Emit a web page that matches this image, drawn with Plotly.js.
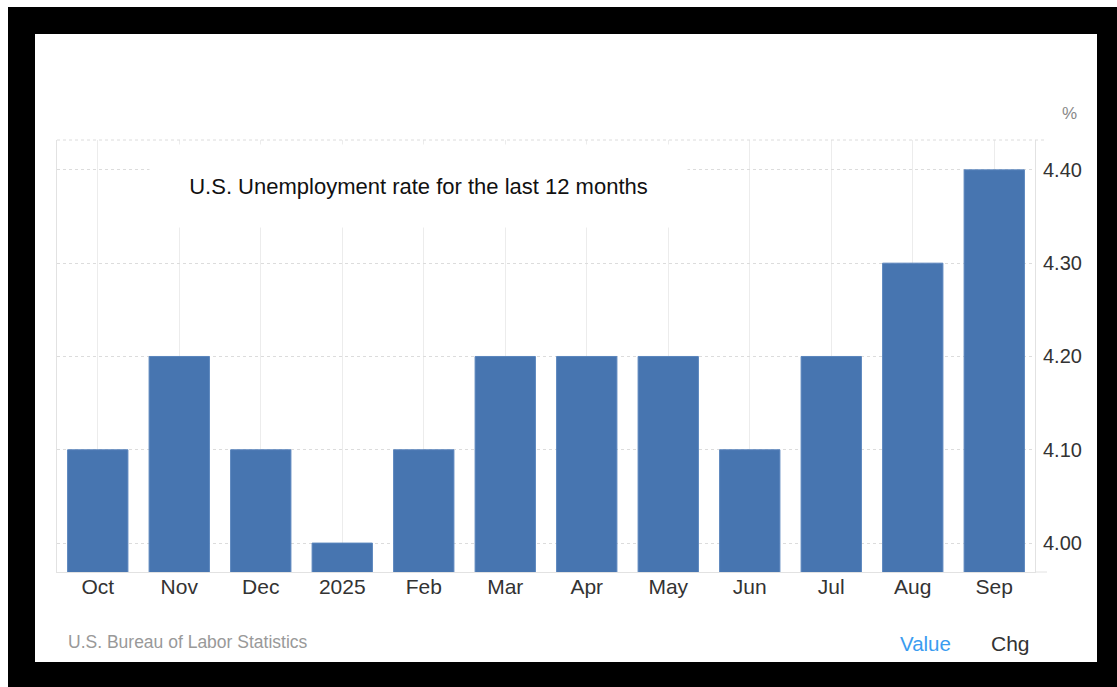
<!DOCTYPE html>
<html>
<head>
<meta charset="utf-8">
<script src="https://cdn.plot.ly/plotly-3.0.1.min.js"></script>
<style>
  html, body { margin:0; padding:0; background:#fff; }
  #outer { position:absolute; left:8px; top:7px; width:1109px; height:680px; background:#000; }
  #inner { position:absolute; left:35px; top:34px; width:1062px; height:628px; background:#fff; }
  #chart { position:absolute; left:0; top:0; width:1117px; height:687px; }
</style>
</head>
<body>
<div id="outer"></div>
<div id="inner"></div>
<div id="chart"></div>
<script>
const months = ["Oct","Nov","Dec","2025","Feb","Mar","Apr","May","Jun","Jul","Aug","Sep"];
const rates = [4.1, 4.2, 4.1, 4.0, 4.1, 4.2, 4.2, 4.2, 4.1, 4.2, 4.3, 4.4];
const yTicks = [4.0, 4.1, 4.2, 4.3, 4.4];
const yTickText = ["4.00","4.10","4.20","4.30","4.40"];
const chartTitle = "U.S. Unemployment rate for the last 12 months";
const sourceText = "U.S. Bureau of Labor Statistics";

const FONT = "Liberation Sans, Arial, Helvetica, sans-serif";
const W = 1117, H = 687;
const L = 57, R = 1035, T = 140, B = 572;
const px = x => (x - L) / (R - L);
const py = y => (B - y) / (B - T);

const trace = {
  type: "bar",
  x: months,
  y: rates,
  marker: { color: "#4775b0", line: { color: "#5a85bd", width: 1 } },
  hoverinfo: "x+y"
};

const layout = {
  width: W, height: H,
  margin: { l: L, r: W - R, t: T, b: H - B, pad: 0 },
  paper_bgcolor: "rgba(0,0,0,0)",
  plot_bgcolor: "rgba(0,0,0,0)",
  bargap: 0.26,
  showlegend: false,
  font: { family: FONT, color: "#333" },
  xaxis: {
    type: "category",
    showgrid: true, gridcolor: "#ececec", gridwidth: 1,
    showline: true, linecolor: "#e2e2e2", linewidth: 1, mirror: false,
    ticks: "", tickfont: { size: 21, color: "#333", family: FONT },
    ticklabelstandoff: -4,
    zeroline: false, fixedrange: true
  },
  yaxis: {
    side: "right",
    range: [3.969, 4.432],
    tickvals: yTicks, ticktext: yTickText,
    showgrid: true, gridcolor: "#dcdcdc", gridwidth: 1, griddash: "dot",
    showline: true, linecolor: "#e2e2e2", linewidth: 1, mirror: true,
    ticks: "", tickfont: { size: 20, color: "#333", family: FONT },
    ticklabelstandoff: 3,
    zeroline: false, fixedrange: true
  },
  shapes: [
    { type: "line", xref: "paper", yref: "paper", x0: 0, x1: px(1047), y0: 1, y1: 1,
      line: { color: "#dcdcdc", width: 1, dash: "dot" } },
    { type: "line", xref: "paper", yref: "paper", x0: 1, x1: px(1047), y0: 0, y1: 0,
      line: { color: "#e2e2e2", width: 1 } }
  ],
  annotations: [
    { xref: "paper", yref: "paper", x: px(418), y: py(186), xanchor: "center", yanchor: "middle",
      text: chartTitle, showarrow: false, width: 535, height: 80, bgcolor: "#ffffff",
      font: { size: 22, color: "#111", family: FONT } },
    { xref: "paper", yref: "paper", x: px(1069), y: py(113), xanchor: "center", yanchor: "middle",
      text: "%", showarrow: false, font: { size: 17, color: "#888", family: FONT } },
    { xref: "paper", yref: "paper", x: px(66), y: py(642), xanchor: "left", yanchor: "middle",
      text: sourceText, showarrow: false, font: { size: 17.5, color: "#999", family: FONT } },
    { xref: "paper", yref: "paper", x: px(925), y: py(643), xanchor: "center", yanchor: "middle",
      text: "Value", showarrow: false, font: { size: 20.5, color: "#3a9cf0", family: FONT } },
    { xref: "paper", yref: "paper", x: px(1010), y: py(643), xanchor: "center", yanchor: "middle",
      text: "Chg", showarrow: false, font: { size: 21, color: "#333", family: FONT } }
  ]
};

Plotly.newPlot("chart", [trace], layout, { displayModeBar: false, staticPlot: false });
</script>
</body>
</html>
